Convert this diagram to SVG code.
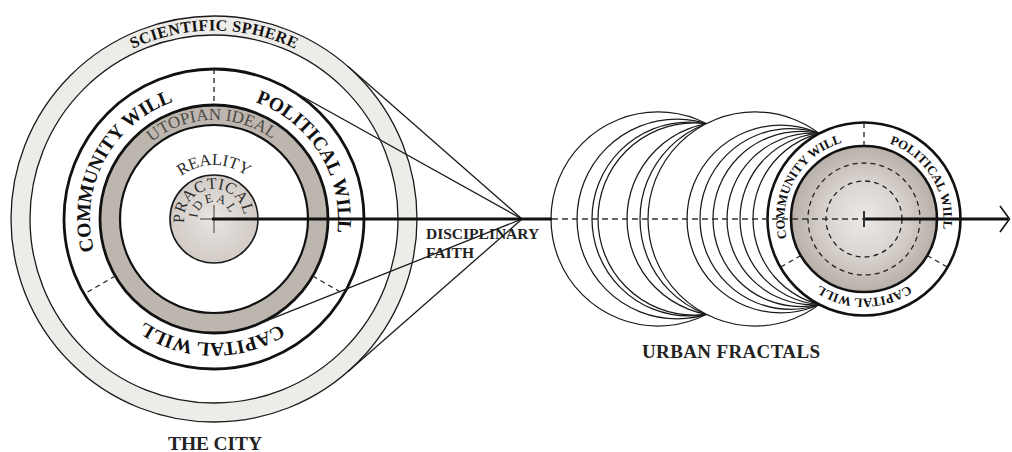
<svg xmlns="http://www.w3.org/2000/svg" width="1012" height="452" viewBox="0 0 1012 452">
<style>
.ln{fill:none;stroke:#1a1a1a;stroke-width:1.3}
.thin{stroke:#1a1a1a;stroke-width:1.3}
.thick{stroke:#111;stroke-width:2.8}
.fr{fill:#fff;stroke:#1a1a1a;stroke-width:1.25}
.dash{fill:none;stroke:#222;stroke-width:1.3;stroke-dasharray:5 4}
.b{font-family:"Liberation Serif","Times New Roman",serif;font-weight:bold;fill:#111}
.r{font-family:"Liberation Serif","Times New Roman",serif;font-weight:normal}
.lab{font-family:"Liberation Serif","Times New Roman",serif;font-weight:bold;fill:#222}
</style>
<defs>
<radialGradient id="pi" cx="0.5" cy="0.5" r="0.5">
<stop offset="0" stop-color="#e9e5e2"/>
<stop offset="1" stop-color="#d2cbc6"/>
</radialGradient>
<radialGradient id="tg" cx="0.5" cy="0.5" r="0.5">
<stop offset="0" stop-color="#ece9e7"/>
<stop offset="0.5" stop-color="#dbd5d1"/>
<stop offset="1" stop-color="#b7afa8"/>
</radialGradient>
<path id="ringL" d="M 106.61 281 A 124 124 0 1 1 321.39 157 A 124 124 0 1 1 106.61 281"/>
<path id="sciL" d="M 214 407.5 A 188.5 188.5 0 1 1 214 30.5 A 188.5 188.5 0 1 1 214 407.5"/>
<path id="utoL" d="M 214 318 A 99 99 0 1 1 214 120 A 99 99 0 1 1 214 318"/>
<path id="reaL" d="M 214 273 A 54 54 0 1 1 214 165 A 54 54 0 1 1 214 273"/>
<path id="praL" d="M 214 249 A 30 30 0 1 1 214 189 A 30 30 0 1 1 214 249"/>
<path id="ideL" d="M 214 236 A 17 17 0 1 1 214 202 A 17 17 0 1 1 214 236"/>
<path id="ringR" d="M 795.15 258.75 A 79.5 79.5 0 1 1 932.85 179.25 A 79.5 79.5 0 1 1 795.15 258.75"/>
</defs>
<rect width="1012" height="452" fill="#fff"/>

<g id="the-city">
<circle cx="214" cy="219" r="203" fill="#eeece9" class="thin"/>
<circle cx="214" cy="219" r="184" fill="#fff" class="thin"/>
<circle cx="214" cy="219" r="150" fill="#fff" class="thick"/>
<circle cx="214" cy="219" r="114" fill="#bdb6af" class="thick"/>
<circle cx="214" cy="219" r="94" fill="#fff" stroke="#111" stroke-width="2.2"/>
<circle cx="214" cy="219" r="44" fill="url(#pi)" stroke="#1a1a1a" stroke-width="1.6"/>
<line x1="214" y1="69" x2="214" y2="105" class="dash"/>
<line x1="312.7" y1="276" x2="343.9" y2="294" class="dash"/>
<line x1="115.3" y1="276" x2="84.1" y2="294" class="dash"/>
<line x1="214" y1="205" x2="214" y2="233" stroke="#7d726b" stroke-width="1.5"/>
<line x1="200" y1="219" x2="214" y2="219" stroke="#7d726b" stroke-width="1.5"/>
<text class="b" font-size="16"><textPath href="#sciL" startOffset="50%" text-anchor="middle" textLength="168" lengthAdjust="spacing">SCIENTIFIC SPHERE</textPath></text>
<text class="b" font-size="19.5"><textPath href="#ringL" startOffset="16.11%" text-anchor="middle">COMMUNITY WILL</textPath></text>
<text class="b" font-size="19.5"><textPath href="#ringL" startOffset="49.44%" text-anchor="middle">POLITICAL WILL</textPath></text>
<text class="b" font-size="19.5"><textPath href="#ringL" startOffset="83.61%" text-anchor="middle">CAPITAL WILL</textPath></text>
<text class="r" font-size="17" fill="#4d4a47"><textPath href="#utoL" startOffset="49.6%" text-anchor="middle">UTOPIAN IDEAL</textPath></text>
<text class="r" font-size="16.5" fill="#2b2b2b"><textPath href="#reaL" startOffset="50%" text-anchor="middle">REALITY</textPath></text>
<text class="r" font-size="16" fill="#2b2b2b"><textPath href="#praL" startOffset="47.8%" text-anchor="middle" textLength="94" lengthAdjust="spacing">PRACTICAL</textPath></text>
<text class="r" font-size="12.5" fill="#2b2b2b"><textPath href="#ideL" startOffset="47.6%" text-anchor="middle" textLength="46" lengthAdjust="spacing">IDEAL</textPath></text>
</g>

<g id="urban-fractals">
<circle cx="658" cy="219" r="107" class="fr"/>
<circle cx="676.87" cy="219" r="99.87" class="fr"/>
<circle cx="688.98" cy="219" r="96.98" class="fr"/>
<circle cx="694.17" cy="219" r="96.17" class="fr"/>
<circle cx="723.96" cy="219" r="96.96" class="fr"/>
<circle cx="741.65" cy="219" r="101.65" class="fr"/>
<circle cx="755" cy="219" r="107" class="fr"/>
<circle cx="780.8" cy="219" r="93.8" class="fr"/>
<circle cx="790.3" cy="219" r="90.3" class="fr"/>
<circle cx="800.6" cy="219" r="87.6" class="fr"/>
<circle cx="812.8" cy="219" r="85.8" class="fr"/>
<circle cx="825.8" cy="219" r="85.8" class="fr"/>
<circle cx="841.3" cy="219" r="88.3" class="fr"/>
</g>

<g id="fractal-city">
<circle cx="864" cy="219" r="96.5" fill="#fff" stroke="#111" stroke-width="2.6"/>
<circle cx="864" cy="219" r="73" fill="url(#tg)" stroke="#111" stroke-width="2.6"/>
<circle cx="864" cy="219" r="56" class="dash"/>
<circle cx="864" cy="219" r="38" class="dash"/>
<line x1="864" y1="146" x2="864" y2="122.5" class="dash"/>
<line x1="927.2" y1="255.5" x2="947.6" y2="267.25" class="dash"/>
<line x1="800.8" y1="255.5" x2="780.4" y2="267.25" class="dash"/>
<text class="b" font-size="12.8"><textPath href="#ringR" startOffset="16.67%" text-anchor="middle">COMMUNITY WILL</textPath></text>
<text class="b" font-size="12.8"><textPath href="#ringR" startOffset="49.44%" text-anchor="middle">POLITICAL WILL</textPath></text>
<text class="b" font-size="12.8"><textPath href="#ringR" startOffset="83.33%" text-anchor="middle">CAPITAL WILL</textPath></text>
</g>

<g id="connectors">
<line x1="347.8" y1="66.3" x2="522" y2="219" class="ln"/>
<line x1="287.1" y1="88" x2="522" y2="219" class="ln"/>
<line x1="256.2" y1="324.9" x2="522" y2="219" class="ln"/>
<line x1="347.8" y1="371.7" x2="522" y2="219" class="ln"/>
<line x1="552" y1="219" x2="864" y2="219" stroke="#333" stroke-width="1.3" stroke-dasharray="6 4"/>
<line x1="212" y1="219" x2="552" y2="219" stroke="#111" stroke-width="3"/>
<line x1="864" y1="219" x2="1008" y2="219" stroke="#111" stroke-width="3"/>
<polyline points="1000,206 1009.5,219 1000,232" fill="none" stroke="#111" stroke-width="1.6"/>
<line x1="864" y1="211" x2="864" y2="227" stroke="#333" stroke-width="2"/>
</g>

<g id="labels">
<text class="lab" x="426" y="239" font-size="15.5">DISCIPLINARY</text>
<text class="lab" x="426" y="258" font-size="15.5">FAITH</text>
<text class="lab" x="168" y="450" font-size="19.5" textLength="94" lengthAdjust="spacing">THE CITY</text>
<text class="lab" x="642" y="358" font-size="19" textLength="178" lengthAdjust="spacing">URBAN FRACTALS</text>
</g>
</svg>
